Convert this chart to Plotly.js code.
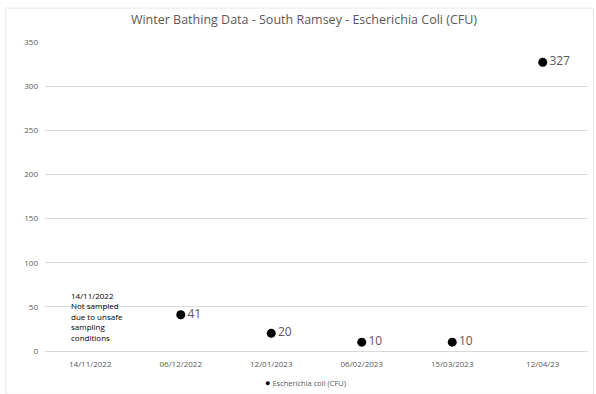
<!DOCTYPE html>
<html><head><meta charset="utf-8">
<script src="https://cdn.plot.ly/plotly-3.0.1.min.js"></script>
<style>html,body{margin:0;padding:0;background:#fff}#chart{width:596px;height:394px}</style>
</head><body><div id="chart"></div>
<script>
const categories = ["14/11/2022","06/12/2022","12/01/2023","06/02/2023","15/03/2023","12/04/23"];
const ecoli = [null, 41, 20, 10, 10, 327];
const labels = ecoli.map(v => v === null ? "" : String(v));
const seriesName = "Escherichia coli (CFU)";
const noteText = "14/11/2022<br>Not sampled<br>due to unsafe<br>sampling<br>conditions";

const trace = {
  type: "scatter", mode: "markers+text",
  x: categories, y: ecoli, text: labels,
  textposition: "middle right",
  textfont: {family: "Open Sans, sans-serif", size: 12, color: "#595959"},
  marker: {color: "#000000", size: 9},
  name: seriesName,
  cliponaxis: false
};

const layout = {
  width: 596, height: 394,
  margin: {l: 45, r: 8, t: 42, b: 43},
  paper_bgcolor: "#fff", plot_bgcolor: "#fff",
  title: {text: "Winter Bathing Data - South Ramsey - Escherichia Coli (CFU)",
    font: {family: "Open Sans, sans-serif", size: 12.5, color: "#595959"},
    x: 0.51, xanchor: "center", y: 0.95, yanchor: "middle"},
  xaxis: {type: "category", range: [-0.5, 5.5], showgrid: false, zeroline: false,
    showline: false, ticks: "", ticklabelstandoff: 7,
    tickfont: {family: "Open Sans, sans-serif", size: 8, color: "#595959"}},
  yaxis: {range: [0, 350], dtick: 50, showgrid: true, gridcolor: "#d9d9d9", gridwidth: 1,
    zeroline: true, zerolinecolor: "#d9d9d9", showline: false, ticks: "",
    ticklabelstandoff: 6,
    tickfont: {family: "Open Sans, sans-serif", size: 8, color: "#595959"}},
  showlegend: false,
  annotations: [{
    x: 0, y: 0, xref: "x", yref: "y", text: noteText, showarrow: false,
    xanchor: "center", yanchor: "bottom", xshift: 7, yshift: 6, align: "left",
    font: {family: "Open Sans, sans-serif", size: 8, color: "#000"}
  }, {
    x: 305, y: 382, xref: "paper", yref: "paper", showarrow: false,
    text: "<span style='color:#000;font-size:9px'>●</span> " + seriesName,
    xanchor: "center", yanchor: "middle",
    font: {family: "Open Sans, sans-serif", size: 7.5, color: "#595959"}
  }],
  shapes: [{type: "rect", xref: "paper", yref: "paper", x0: -0.072, x1: 1.01, y0: -0.14, y1: 1.11,
    line: {color: "#e6e6e6", width: 1}}]
};
const pw = 596 - 45 - 8, ph = 394 - 42 - 43;
layout.annotations[1].x = (305 - 45) / pw;
layout.annotations[1].y = (394 - 43 - 382) / ph;
Plotly.newPlot("chart", [trace], layout, {displayModeBar: false, staticPlot: true});
</script></body></html>
